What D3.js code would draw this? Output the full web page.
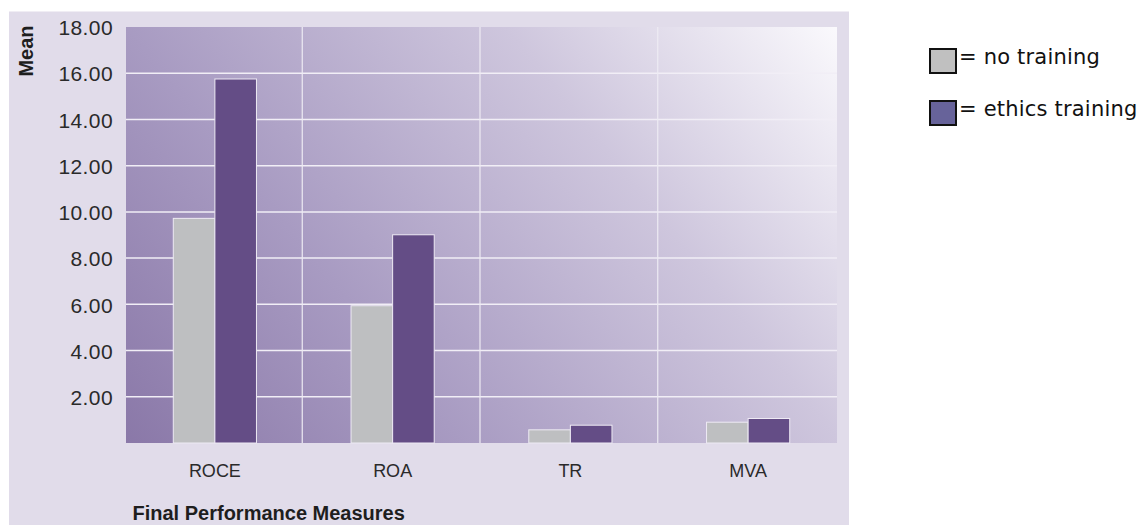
<!DOCTYPE html>
<html>
<head>
<meta charset="utf-8">
<script src="https://cdn.jsdelivr.net/npm/d3@7"></script>
<style>
  html, body { margin: 0; padding: 0; background: #ffffff; }
  svg { display: block; }
</style>
</head>
<body>
<svg id="chart" width="1146" height="525"></svg>
<script>
// ---- data ----
const categories = ["ROCE", "ROA", "TR", "MVA"];
const seriesNames = ["no training", "ethics training"];
const noTraining = [9.72, 5.94, 0.57, 0.90];
const ethicsTraining = [15.75, 9.01, 0.77, 1.06];
const yTicks = [2, 4, 6, 8, 10, 12, 14, 16, 18];
const yAxisTitle = "Mean";
const xAxisTitle = "Final Performance Measures";

// ---- layout ----
const W = 1146, H = 525;
const plot = { left: 126, right: 837, top: 27, bottom: 443 };
const colors = { "no training": "#bebfc1", "ethics training": "#644d86" };
const legendColors = { "no training": "#c0c0c0", "ethics training": "#67639a" };

const svg = d3.select("#chart");
const defs = svg.append("defs");

// outer panel
svg.append("rect")
  .attr("x", 9).attr("y", 11.5).attr("width", 840).attr("height", H - 11.5)
  .attr("fill", "#e1dcea");

// gradient for plot area
const grad = defs.append("linearGradient")
  .attr("id", "plotGrad")
  .attr("gradientUnits", "userSpaceOnUse")
  .attr("x1", plot.left).attr("y1", plot.bottom)
  .attr("x2", 763).attr("y2", -72);
grad.append("stop").attr("offset", 0).attr("stop-color", "#8a78a8");
grad.append("stop").attr("offset", 0.32).attr("stop-color", "#a89bc2");
grad.append("stop").attr("offset", 0.68).attr("stop-color", "#cec6dd");
grad.append("stop").attr("offset", 1).attr("stop-color", "#fbfafd");

svg.append("rect")
  .attr("x", plot.left).attr("y", plot.top)
  .attr("width", plot.right - plot.left).attr("height", plot.bottom - plot.top)
  .attr("fill", "url(#plotGrad)");

// scales
const x = d3.scaleBand().domain(categories).range([plot.left, plot.right]).padding(0);
const bw = x.bandwidth();
const xs = d3.scaleBand().domain(seriesNames).range([bw * 0.266, bw * 0.734]).padding(0);
const y = d3.scaleLinear().domain([0, 18]).range([plot.bottom, plot.top]);

// gridlines
const grid = svg.append("g");
grid.selectAll("line.h")
  .data(yTicks.filter(d => d < 18))
  .join("line")
  .attr("x1", plot.left).attr("x2", plot.right)
  .attr("y1", d => y(d)).attr("y2", d => y(d))
  .attr("stroke", "#f1eef6").attr("stroke-width", 1.5);
grid.selectAll("line.v")
  .data(categories.slice(1))
  .join("line")
  .attr("x1", d => x(d) - 1.5).attr("x2", d => x(d) - 1.5)
  .attr("y1", plot.top).attr("y2", plot.bottom)
  .attr("stroke", "#eeebf4").attr("stroke-width", 1.2);

// bars
const rows = categories.map((c, i) => ({
  cat: c,
  vals: [
    { s: "no training", v: noTraining[i] },
    { s: "ethics training", v: ethicsTraining[i] }
  ]
}));
const groups = svg.append("g").selectAll("g")
  .data(rows).join("g")
  .attr("transform", d => `translate(${x(d.cat)},0)`);
groups.selectAll("rect")
  .data(d => d.vals).join("rect")
  .attr("x", d => xs(d.s))
  .attr("y", d => y(d.v))
  .attr("width", xs.bandwidth())
  .attr("height", d => y(0) - y(d.v))
  .attr("fill", d => colors[d.s])
  .attr("stroke", "#eeeaf4")
  .attr("stroke-width", 1);

// y axis labels
const yAxis = d3.axisLeft(y).tickValues(yTicks).tickFormat(d3.format(".2f")).tickSize(0).tickPadding(0);
const yg = svg.append("g").attr("transform", `translate(113,1)`).call(yAxis);
yg.select(".domain").remove();
yg.selectAll("text")
  .attr("font-family", "'Liberation Sans', Arial, sans-serif")
  .attr("font-size", 21)
  .attr("letter-spacing", 0.4)
  .attr("fill", "#2a2a2a");

// x axis labels
const xAxis = d3.axisBottom(x).tickSize(0).tickPadding(0);
const xg = svg.append("g").attr("transform", `translate(0,463)`).call(xAxis);
xg.select(".domain").remove();
xg.selectAll("text")
  .attr("font-family", "'Liberation Sans', Arial, sans-serif")
  .attr("font-size", 18)
  .attr("dy", "0.75em")
  .attr("fill", "#2a2a2a");

// axis titles
svg.append("text")
  .attr("transform", "translate(33,51) rotate(-90)")
  .attr("text-anchor", "middle")
  .attr("font-family", "'Liberation Sans', Arial, sans-serif")
  .attr("font-weight", "bold")
  .attr("font-size", 20)
  .attr("fill", "#1e1e1e")
  .text(yAxisTitle);

svg.append("text")
  .attr("x", 132.5).attr("y", 519.5)
  .attr("font-family", "'Liberation Sans', Arial, sans-serif")
  .attr("font-weight", "bold")
  .attr("font-size", 20)
  .attr("fill", "#1e1e1e")
  .text(xAxisTitle);

// legend
const legend = svg.append("g").selectAll("g")
  .data(seriesNames).join("g")
  .attr("transform", (d, i) => `translate(930,${49 + i * 52})`);
legend.append("rect")
  .attr("width", 26).attr("height", 24)
  .attr("fill", d => legendColors[d])
  .attr("stroke", "#111").attr("stroke-width", 2);
legend.append("text")
  .attr("x", 29).attr("y", 14.5)
  .attr("font-family", "'DejaVu Sans', Verdana, sans-serif")
  .attr("font-size", 21)
  .attr("letter-spacing", 0.2)
  .attr("fill", "#111")
  .text(d => "= " + d);
</script>
</body>
</html>
